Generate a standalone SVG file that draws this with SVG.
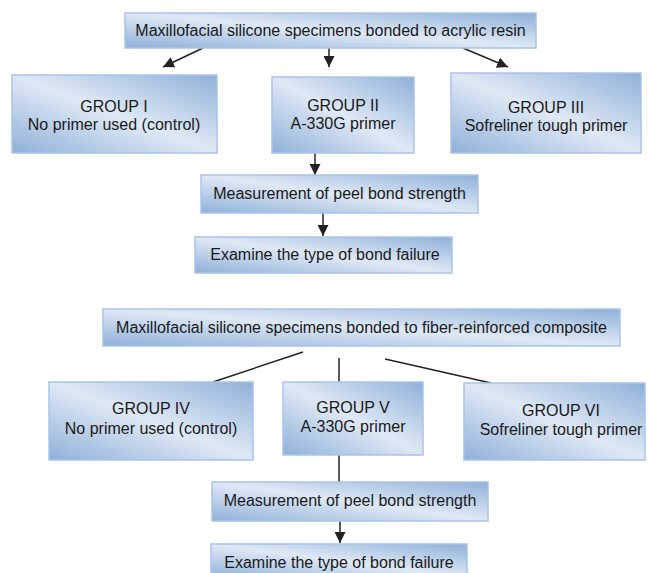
<svg xmlns="http://www.w3.org/2000/svg" width="648" height="573" viewBox="0 0 648 573">
<defs>
<linearGradient id="g" x1="0" y1="1" x2="1" y2="0">
<stop offset="0" stop-color="#8fb0d9"/>
<stop offset="0.5" stop-color="#dfe9f5"/>
<stop offset="1" stop-color="#8fb0d9"/>
</linearGradient>
<marker id="ah" viewBox="0 0 10 10" refX="10" refY="5" markerWidth="11" markerHeight="11" markerUnits="userSpaceOnUse" orient="auto">
<path d="M0,0 L10,5 L0,10 Z" fill="#222"/>
</marker>
<style>
.box{fill:url(#g);stroke:#a9c5e8;stroke-width:1.5}
text{font-family:"Liberation Sans",Arial,sans-serif;font-size:16px;fill:#1a1a1a;text-anchor:middle}
.c{stroke:#222;stroke-width:1.5;fill:none}
.a{stroke:#222;stroke-width:1.5;fill:none;marker-end:url(#ah)}
</style>
</defs>
<rect width="648" height="573" fill="#fff"/>
<g id="connectors">
<line class="a" x1="203" y1="48" x2="163" y2="67"/>
<line class="a" x1="329" y1="48" x2="329" y2="67"/>
<line class="a" x1="463" y1="48" x2="508" y2="67"/>
<line class="a" x1="315" y1="153" x2="315" y2="175"/>
<line class="a" x1="323" y1="213" x2="323" y2="236"/>
<line class="c" x1="303" y1="352" x2="213" y2="382"/>
<line class="c" x1="339" y1="358" x2="339" y2="382"/>
<line class="c" x1="385" y1="359" x2="491" y2="383"/>
<line class="c" x1="339" y1="455" x2="339" y2="482"/>
<line class="a" x1="340" y1="521" x2="340" y2="543"/>
</g>
<g id="top1">
<rect class="box" x="125" y="13" width="411" height="35"/>
<text x="330.5" y="36">Maxillofacial silicone specimens bonded to acrylic resin</text>
</g>
<g id="group1">
<rect class="box" x="12" y="75" width="205" height="78"/>
<text x="114" y="112">GROUP I</text>
<text x="114" y="130">No primer used (control)</text>
</g>
<g id="group2">
<rect class="box" x="272" y="77" width="142" height="76"/>
<text x="343" y="111">GROUP II</text>
<text x="343" y="129">A-330G primer</text>
</g>
<g id="group3">
<rect class="box" x="451" y="73" width="190" height="80"/>
<text x="546" y="113">GROUP III</text>
<text x="546" y="131">Sofreliner tough primer</text>
</g>
<g id="measure1">
<rect class="box" x="201" y="175" width="277" height="38"/>
<text x="339.5" y="199">Measurement of peel bond strength</text>
</g>
<g id="examine1">
<rect class="box" x="195" y="237" width="257" height="36"/>
<text x="325" y="260">Examine the type of bond failure</text>
</g>
<g id="top2">
<rect class="box" x="103" y="309" width="517" height="37"/>
<text x="361.5" y="333">Maxillofacial silicone specimens bonded to fiber-reinforced composite</text>
</g>
<g id="group4">
<rect class="box" x="49" y="382" width="204" height="78"/>
<text x="151" y="414">GROUP IV</text>
<text x="151" y="434">No primer used (control)</text>
</g>
<g id="group5">
<rect class="box" x="283" y="382" width="140" height="73"/>
<text x="353" y="413">GROUP V</text>
<text x="353" y="432">A-330G primer</text>
</g>
<g id="group6">
<rect class="box" x="464" y="383" width="181" height="77"/>
<text x="561" y="416">GROUP VI</text>
<text x="561" y="435">Sofreliner tough primer</text>
</g>
<g id="measure2">
<rect class="box" x="212" y="482" width="276" height="39"/>
<text x="350" y="506">Measurement of peel bond strength</text>
</g>
<g id="examine2">
<rect class="box" x="211" y="544" width="256" height="34"/>
<text x="339" y="568">Examine the type of bond failure</text>
</g>
</svg>
